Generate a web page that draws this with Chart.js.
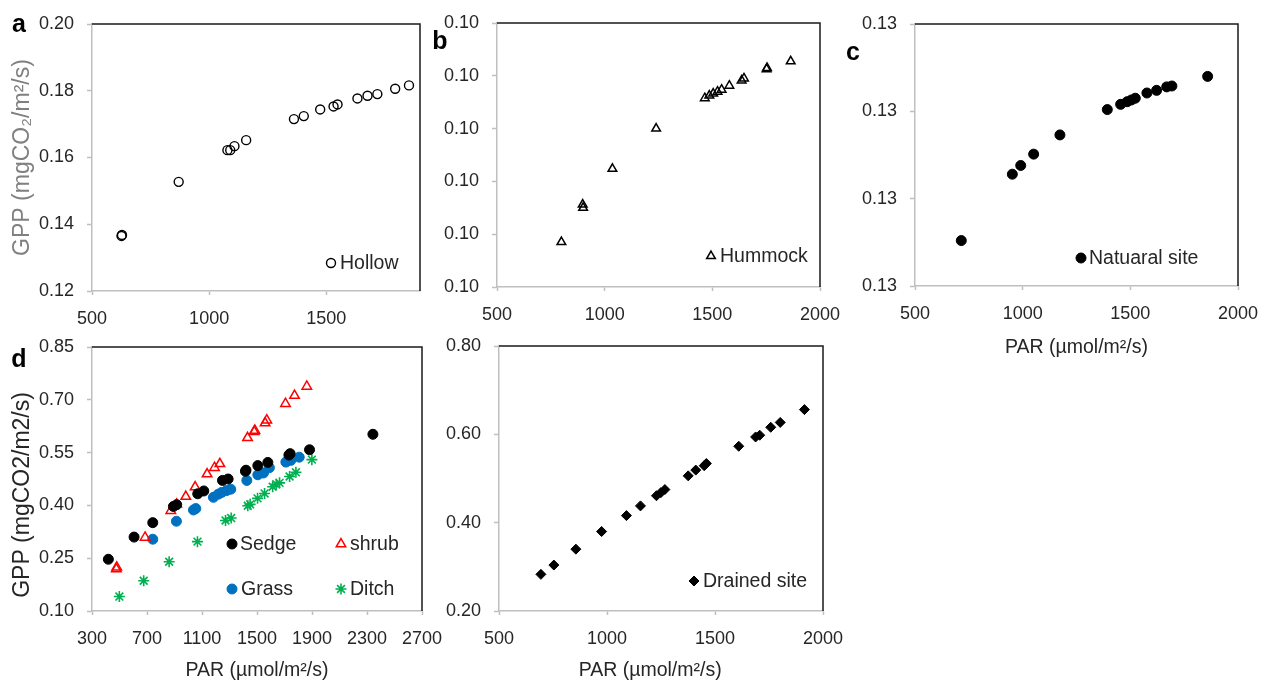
<!DOCTYPE html>
<html>
<head>
<meta charset="utf-8">
<script src="https://cdn.jsdelivr.net/npm/chart.js@4.4.1/dist/chart.umd.min.js"></script>
<style>
  body { margin: 0; background: #fff; width: 1261px; height: 682px; overflow: hidden; position: relative; }
  canvas { position: absolute; }
</style>
</head>
<body>
<canvas id="pa" style="left:0;top:0" width="440" height="335"></canvas>
<canvas id="pb" style="left:420px;top:0" width="425" height="335"></canvas>
<canvas id="pc" style="left:840px;top:0" width="421" height="370"></canvas>
<canvas id="pd" style="left:0;top:330px" width="445" height="352"></canvas>
<canvas id="pe" style="left:440px;top:330px" width="410" height="352"></canvas>
<script>
// a - Hollow
const hollowPar = [626, 628, 870, 1078, 1090, 1108, 1158, 1362, 1404, 1474, 1531, 1548, 1633, 1676, 1718, 1794, 1853];
const hollowGpp = [0.1365, 0.1368, 0.1527, 0.1622, 0.1622, 0.1634, 0.1652, 0.1715, 0.1724, 0.1744, 0.1753, 0.1759, 0.1777, 0.1785, 0.1790, 0.1806, 0.1816];

// b - Hummock (axis labels all print as 0.10)
const hummockPar = [799, 898, 900, 1036, 1239, 1465, 1486, 1504, 1524, 1543, 1579, 1636, 1647, 1752, 1754, 1864];
const hummockGpp = [0.10068, 0.10125, 0.10120, 0.10179, 0.10240, 0.10286, 0.10290, 0.10293, 0.10296, 0.10299, 0.10305, 0.10313, 0.10316, 0.10330, 0.10332, 0.10342];

// c - Natural site (axis labels all print as 0.13)
const naturalPar = [715, 952, 991, 1051, 1173, 1393, 1455, 1485, 1505, 1523, 1577, 1622, 1669, 1693, 1859];
const naturalGpp = [0.12652, 0.12728, 0.12738, 0.12751, 0.12773, 0.12802, 0.12808, 0.12811, 0.12813, 0.12815, 0.12821, 0.12824, 0.12828, 0.12829, 0.12840];

// d - vegetation types
const sedgePar = [419, 606, 742, 892, 916, 1069, 1113, 1249, 1290, 1416, 1420, 1506, 1579, 1732, 1741, 1882, 2343];
const sedgeGpp = [0.247, 0.310, 0.351, 0.397, 0.402, 0.433, 0.441, 0.471, 0.475, 0.497, 0.500, 0.513, 0.522, 0.543, 0.547, 0.558, 0.602];
const shrubPar = [477, 480, 686, 873, 916, 982, 1050, 1137, 1191, 1230, 1431, 1480, 1484, 1559, 1571, 1707, 1773, 1862];
const shrubGpp = [0.219, 0.224, 0.309, 0.385, 0.403, 0.425, 0.452, 0.489, 0.507, 0.518, 0.592, 0.609, 0.613, 0.634, 0.642, 0.689, 0.712, 0.738];
const grassPar = [742, 914, 1038, 1055, 1183, 1219, 1244, 1278, 1309, 1426, 1506, 1547, 1590, 1710, 1746, 1807];
const grassGpp = [0.304, 0.355, 0.387, 0.391, 0.423, 0.432, 0.437, 0.442, 0.446, 0.471, 0.487, 0.492, 0.507, 0.523, 0.528, 0.537];
const ditchPar = [499, 676, 861, 1067, 1271, 1312, 1433, 1450, 1504, 1555, 1614, 1640, 1664, 1737, 1783, 1899];
const ditchGpp = [0.141, 0.186, 0.240, 0.297, 0.357, 0.364, 0.399, 0.403, 0.420, 0.434, 0.453, 0.460, 0.464, 0.482, 0.494, 0.530];

// e - Drained site
const drainedPar = [694, 754, 856, 975, 1090, 1155, 1229, 1249, 1268, 1376, 1411, 1450, 1460, 1610, 1688, 1707, 1758, 1802, 1914];
const drainedGpp = [0.283, 0.304, 0.340, 0.380, 0.416, 0.438, 0.461, 0.468, 0.475, 0.506, 0.519, 0.529, 0.534, 0.573, 0.594, 0.598, 0.616, 0.627, 0.656];

// tick labels
const xTicksA = [500, 1000, 1500];
const xTicks500 = [500, 1000, 1500, 2000];
const xTicksD = [300, 700, 1100, 1500, 1900, 2300, 2700];
const yTicksA = [0.12, 0.14, 0.16, 0.18, 0.20];
const yTicksB = [0.1000, 0.1008, 0.1016, 0.1024, 0.1032, 0.1040];
const yTicksC = [0.126, 0.127, 0.128, 0.129];
const yTicksD = [0.10, 0.25, 0.40, 0.55, 0.70, 0.85];
const yTicksE = [0.20, 0.40, 0.60, 0.80];

const TXT = '#262626';
const AXIS = '#bfbfbf';
const SANS = "'Liberation Sans', Arial, sans-serif";

function pts(xs, ys) { return xs.map((x, i) => ({ x: x, y: ys[i] })); }
function fixTicks(values) { return scale => { scale.ticks = values.map(v => ({ value: v })); }; }

// dark top/right edge of the plot box
const frame = {
  id: 'frame',
  afterDraw(chart) {
    const { ctx, chartArea: a } = chart;
    ctx.save();
    ctx.strokeStyle = '#1a1a1a';
    ctx.lineWidth = 1.5;
    ctx.beginPath();
    ctx.moveTo(a.left, a.top);
    ctx.lineTo(a.right, a.top);
    ctx.lineTo(a.right, a.bottom);
    ctx.stroke();
    ctx.restore();
  }
};

// legend entries drawn inside the plot
const insideLegend = {
  id: 'insideLegend',
  afterDatasetsDraw(chart, args, opts) {
    const ctx = chart.ctx;
    (opts.items || []).forEach(it => {
      const ds = chart.data.datasets[it.ds];
      ctx.save();
      ctx.fillStyle = ds.backgroundColor;
      ctx.strokeStyle = ds.borderColor;
      ctx.lineWidth = ds.borderWidth;
      Chart.helpers.drawPoint(ctx, { pointStyle: ds.pointStyle, radius: ds.pointRadius, borderWidth: ds.borderWidth, rotation: 0 }, it.x, it.y);
      ctx.fillStyle = TXT;
      ctx.font = '19.5px ' + SANS;
      ctx.textBaseline = 'middle';
      ctx.fillText(ds.label, it.tx, it.y + 1);
      ctx.restore();
    });
  }
};

const panelLetter = {
  id: 'panelLetter',
  afterDraw(chart, args, opts) {
    if (!opts.text) return;
    const ctx = chart.ctx;
    ctx.save();
    ctx.fillStyle = '#000';
    ctx.font = 'bold 25px ' + SANS;
    ctx.textAlign = 'center';
    ctx.textBaseline = 'middle';
    ctx.fillText(opts.text, opts.x, opts.y);
    ctx.restore();
  }
};

function panel(id, o) {
  return new Chart(document.getElementById(id), {
    type: 'scatter',
    data: { datasets: o.datasets },
    options: {
      responsive: false,
      animation: false,
      layout: { padding: o.pad },
      plugins: {
        legend: { display: false },
        tooltip: { enabled: false },
        insideLegend: { items: o.legend },
        panelLetter: o.letter
      },
      scales: {
        x: {
          type: 'linear',
          min: o.xMin, max: o.xMax,
          afterBuildTicks: fixTicks(o.xTicks),
          // fixed axis height; the layout padding already leaves room for the end labels
          afterFit: s => { s.height = o.xH; s.paddingLeft = 0; s.paddingRight = 0; },
          grid: { drawOnChartArea: false, tickLength: 4, tickColor: AXIS, tickWidth: 1.5 },
          border: { color: AXIS, width: 1.5 },
          ticks: { color: TXT, font: { family: SANS, size: 18 }, padding: 13, maxRotation: 0, callback: v => String(v) },
          title: o.xTitle
            ? { display: true, text: o.xTitle, color: TXT, font: { family: SANS, size: 19.5 }, padding: { bottom: o.xTitlePad } }
            : { display: false }
        },
        y: {
          min: o.yMin, max: o.yMax,
          afterBuildTicks: fixTicks(o.yTicks),
          afterFit: s => { s.width = o.yW; s.paddingTop = 0; s.paddingBottom = 0; },
          grid: { drawOnChartArea: false, tickLength: 5, tickColor: AXIS, tickWidth: 1.5 },
          border: { color: AXIS, width: 1.5 },
          ticks: { color: TXT, font: { family: SANS, size: 18 }, padding: 13, callback: v => v.toFixed(2) },
          title: o.yTitle
            ? { display: true, text: o.yTitle, color: o.yTitleColor, font: { family: SANS, size: 23 }, padding: { top: 9 } }
            : { display: false }
        }
      }
    },
    plugins: [frame, insideLegend, panelLetter]
  });
}

const openCircle = (label, xs, ys) => ({ label, data: pts(xs, ys), pointStyle: 'circle', pointRadius: 4.5, borderWidth: 1.4, borderColor: '#000', backgroundColor: 'rgba(0,0,0,0)' });

panel('pa', {
  datasets: [openCircle('Hollow', hollowPar, hollowGpp)],
  pad: { left: 0, top: 24, right: 20, bottom: 0 },
  xMin: 500, xMax: 1900, xTicks: xTicksA, xH: 44,
  yMin: 0.12, yMax: 0.20, yTicks: yTicksA, yW: 92,
  yTitle: 'GPP (mgCO\u2082/m\u00b2/s)', yTitleColor: '#808080',
  legend: [{ ds: 0, x: 331, y: 263, tx: 340 }],
  letter: { text: 'a', x: 19, y: 25 }
});

panel('pb', {
  datasets: [{ label: 'Hummock', data: pts(hummockPar, hummockGpp), pointStyle: 'triangle', pointRadius: 5, borderWidth: 1.5, borderColor: '#000', backgroundColor: 'rgba(0,0,0,0)' }],
  pad: { left: 0, top: 23, right: 25, bottom: 0 },
  xMin: 500, xMax: 2000, xTicks: xTicks500, xH: 48,
  yMin: 0.1, yMax: 0.104, yTicks: yTicksB, yW: 77,
  legend: [{ ds: 0, x: 291, y: 256, tx: 300 }],
  letter: { text: 'b', x: 20, y: 42 }
});

panel('pc', {
  datasets: [{ label: 'Natuaral site', data: pts(naturalPar, naturalGpp), pointStyle: 'circle', pointRadius: 5, borderWidth: 1, borderColor: '#000', backgroundColor: '#000' }],
  pad: { left: 0, top: 24, right: 23, bottom: 0 },
  xMin: 500, xMax: 2000, xTicks: xTicks500, xH: 84,
  yMin: 0.126, yMax: 0.129, yTicks: yTicksC, yW: 75,
  xTitle: 'PAR (\u00b5mol/m\u00b2/s)', xTitlePad: 11,
  legend: [{ ds: 0, x: 241, y: 258, tx: 249 }],
  letter: { text: 'c', x: 13, y: 53 }
});

panel('pd', {
  datasets: [
    { label: 'Sedge', data: pts(sedgePar, sedgeGpp), pointStyle: 'circle', pointRadius: 5, borderWidth: 1, borderColor: '#000', backgroundColor: '#000' },
    { label: 'shrub', data: pts(shrubPar, shrubGpp), pointStyle: 'triangle', pointRadius: 5.5, borderWidth: 1.5, borderColor: '#ff0000', backgroundColor: 'rgba(0,0,0,0)' },
    { label: 'Grass', data: pts(grassPar, grassGpp), pointStyle: 'circle', pointRadius: 5, borderWidth: 1, borderColor: '#0070c0', backgroundColor: '#0070c0' },
    { label: 'Ditch', data: pts(ditchPar, ditchGpp), pointStyle: 'star', pointRadius: 5.5, borderWidth: 1.6, borderColor: '#00b050', backgroundColor: '#00b050' }
  ],
  pad: { left: 0, top: 17, right: 23, bottom: 0 },
  xMin: 300, xMax: 2700, xTicks: xTicksD, xH: 71,
  yMin: 0.10, yMax: 0.85, yTicks: yTicksD, yW: 92,
  xTitle: 'PAR (\u00b5mol/m\u00b2/s)', xTitlePad: 0,
  // trailing spaces nudge the centred title down a little, as in the source figure
  yTitle: 'GPP (mgCO2/m2/s)     ', yTitleColor: TXT,
  legend: [
    { ds: 0, x: 232, y: 214, tx: 240 },
    { ds: 1, x: 341, y: 214, tx: 350 },
    { ds: 2, x: 232, y: 259, tx: 241 },
    { ds: 3, x: 341, y: 259, tx: 350 }
  ],
  letter: { text: 'd', x: 19, y: 30 }
});

panel('pe', {
  datasets: [{ label: 'Drained site', data: pts(drainedPar, drainedGpp), pointStyle: 'rectRot', pointRadius: 5, borderWidth: 1, borderColor: '#000', backgroundColor: '#000' }],
  pad: { left: 0, top: 16, right: 27, bottom: 0 },
  xMin: 500, xMax: 2000, xTicks: xTicks500, xH: 71,
  yMin: 0.2, yMax: 0.8, yTicks: yTicksE, yW: 59,
  xTitle: 'PAR (\u00b5mol/m\u00b2/s)    ', xTitlePad: 0,
  legend: [{ ds: 0, x: 254, y: 251, tx: 263 }]
});
</script>
</body>
</html>
